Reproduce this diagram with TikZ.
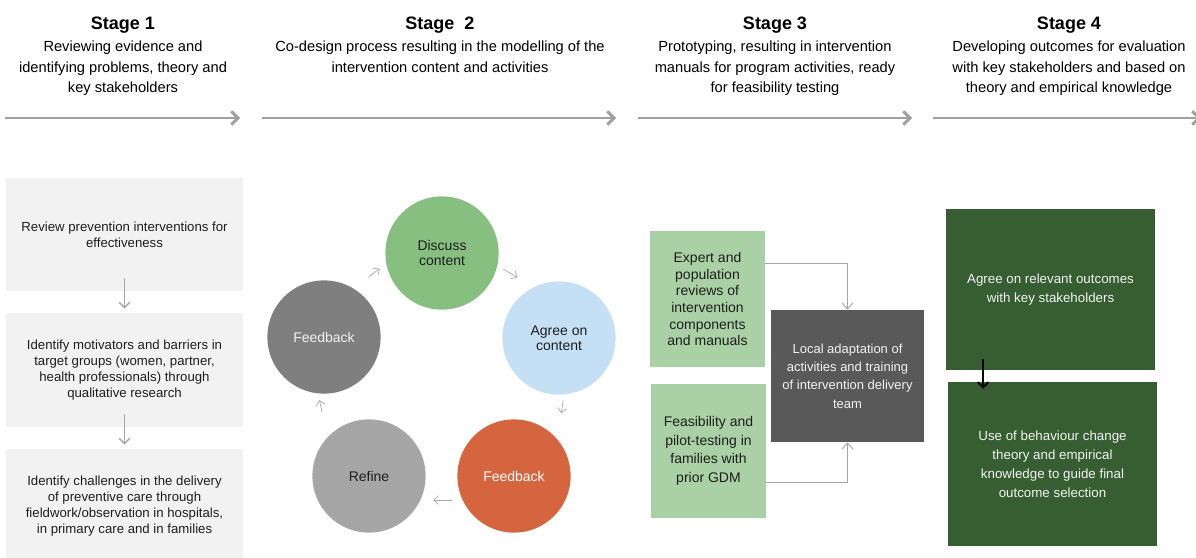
\documentclass[tikz,border=0pt]{standalone}
\usepackage{fontspec}
\setmainfont{Liberation Sans}
\usetikzlibrary{arrows.meta}
\definecolor{hdrgray}{RGB}{160,160,160}
\definecolor{sonefill}{RGB}{242,242,242}
\definecolor{txtdark}{RGB}{30,30,30}
\definecolor{cgreen}{RGB}{134,191,128}
\definecolor{cblue}{RGB}{197,224,244}
\definecolor{corange}{RGB}{213,101,62}
\definecolor{cmid}{RGB}{166,166,166}
\definecolor{cdark}{RGB}{127,127,127}
\definecolor{lgreen}{RGB}{170,208,165}
\definecolor{dgray}{RGB}{89,89,89}
\definecolor{dgreen}{RGB}{55,94,50}
\definecolor{whitish}{RGB}{242,242,242}
\begin{document}
\begin{tikzpicture}[x=0.75pt,y=-0.75pt,
  title/.style={font=\fontsize{13.5}{16}\selectfont\bfseries, anchor=base, inner sep=0},
  subt/.style={font=\fontsize{11}{15.4}\selectfont, align=center, anchor=north, inner sep=0},
  hdrarrow/.style={draw=hdrgray, line width=2.2pt, -{Straight Barb[length=5pt,width=10pt]}},
  sonebox/.style={fill=sonefill, minimum width=177.75pt, align=center, text=txtdark,
     font=\fontsize{9.9}{12}\selectfont, inner sep=0},
  sonearrow/.style={draw=cmid, line width=1.1pt, -{Straight Barb[length=4pt,width=8pt]}},
  cyc/.style={circle, minimum size=85pt, inner sep=0, align=center,
     font=\fontsize{10.5}{11.25}\selectfont},
  cycarrow/.style={draw=cmid, line width=0.5pt, -{Straight Barb[length=3.5pt,width=6.5pt]}},
  gbox/.style={fill=lgreen, minimum width=86.25pt, align=center, text=txtdark, inner sep=0},
  darkbox/.style={fill=dgray, minimum width=114.75pt, minimum height=99pt, align=center,
     text=whitish, font=\fontsize{9.75}{13.75}\selectfont, inner sep=0},
  sthreearrow/.style={draw=cmid, line width=0.7pt, -{Straight Barb[length=4.5pt,width=8pt]}},
  sfourbox/.style={fill=dgreen, minimum width=156.75pt, align=center, text=whitish,
     font=\fontsize{10}{14.25}\selectfont, inner sep=0},
  blkarrow/.style={draw=black, line width=1.4pt, -{Straight Barb[length=4pt,width=8pt]}}
]
\useasboundingbox (0,0) rectangle (1196,557);

% ---- headers ----
\node[title] (t1) at (123,29) {Stage 1};
\node[title] (t2) at (440,29) {Stage\ \ 2};
\node[title] (t3) at (775,29) {Stage 3};
\node[title] (t4) at (1069,29) {Stage 4};
\node[subt] (u1) at (123,41) {Reviewing evidence and\\identifying problems, theory and\\key stakeholders};
\node[subt] (u2) at (440,41) {Co-design process resulting in the modelling of the\\intervention content and activities};
\node[subt] (u3) at (775,41) {Prototyping, resulting in intervention\\manuals for program activities, ready\\for feasibility testing};
\node[subt] (u4) at (1069,41) {Developing outcomes for evaluation\\with key stakeholders and based on\\theory and empirical knowledge};

\coordinate (h1s) at (5,118);   \coordinate (h1e) at (240,118);
\coordinate (h2s) at (262,118); \coordinate (h2e) at (616,118);
\coordinate (h3s) at (638,118); \coordinate (h3e) at (912,118);
\coordinate (h4s) at (933,118); \coordinate (h4e) at (1201,118);
\draw[hdrarrow] (h1s) -- (h1e);
\draw[hdrarrow] (h2s) -- (h2e);
\draw[hdrarrow] (h3s) -- (h3e);
\draw[hdrarrow] (h4s) -- (h4e);

% ---- stage 1 ----
\node[sonebox, minimum height=84.75pt] (a1) at (124.5,234.5) {Review prevention interventions for\\effectiveness};
\node[sonebox, minimum height=85.5pt] (a2) at (124.5,370) {Identify motivators and barriers in\\target groups (women, partner,\\health professionals) through\\qualitative research};
\node[sonebox, minimum height=85.5pt] (a3) at (124.5,506) {Identify challenges in the delivery\\of preventive care through\\fieldwork/observation in hospitals,\\in primary care and in families};
\draw[sonearrow] ([yshift=9.75pt]a1.south) -- ([yshift=3pt]a2.north);
\draw[sonearrow] ([yshift=9.75pt]a2.south) -- ([yshift=3pt]a3.north);

% ---- stage 2 ----
\node[cyc, fill=cgreen, text=txtdark] (dis) at (442,253) {Discuss\\content};
\node[cyc, fill=cblue, text=txtdark] (agr) at (559,338) {Agree on\\content};
\node[cyc, fill=corange, text=white] (fbo) at (514,476) {Feedback};
\node[cyc, fill=cmid, text=txtdark] (ref) at (369,476) {Refine};
\node[cyc, fill=cdark, text=whitish] (fbg) at (324,337) {Feedback};
\draw[cycarrow, shorten <=14.5pt, shorten >=6pt] (fbg.59) -- (dis.191.5);
\draw[cycarrow, shorten <=5.1pt, shorten >=14.2pt] (dis.-13.9) -- (agr.116.8);
\draw[cycarrow, shorten <=4.2pt, shorten >=19.8pt] (agr.-85.1) -- (fbo.40.7);
\draw[cycarrow, shorten <=8pt, shorten >=9.5pt] (fbo.205.04) -- (ref.-25.04);
\draw[cycarrow, shorten <=19pt, shorten >=4.9pt] (ref.137.9) -- (fbg.-96);

% ---- stage 3 ----
\node[gbox, minimum height=102pt, font=\fontsize{10.5}{12.5}\selectfont] (exp) at (707.5,299)
  {Expert and\\population\\reviews of\\intervention\\components\\and manuals};
\node[gbox, minimum height=100.5pt, font=\fontsize{10.5}{14}\selectfont] (fea) at (708.5,451)
  {Feasibility and\\pilot-testing in\\families with\\prior GDM};
\node[darkbox] (loc) at (847.5,376) {Local adaptation of\\activities and training\\of intervention delivery\\team};
\draw[sthreearrow] ([yshift=27pt]exp.east) -| (loc.north);
\draw[sthreearrow] ([yshift=-23.25pt]fea.east) -| (loc.south);

% ---- stage 4 ----
\node[sfourbox, minimum height=120.75pt] (o1) at (1050.5,289.5) {Agree on relevant outcomes\\with key stakeholders};
\node[sfourbox, minimum height=123pt] (o2) at (1052.5,464) {Use of behaviour change\\theory and empirical\\knowledge to guide final\\outcome selection};
\draw[blkarrow] ([xshift=-50.625pt,yshift=8.25pt]o1.south) -- ([xshift=-52.125pt,yshift=-5.25pt]o2.north);
\end{tikzpicture}
\end{document}
